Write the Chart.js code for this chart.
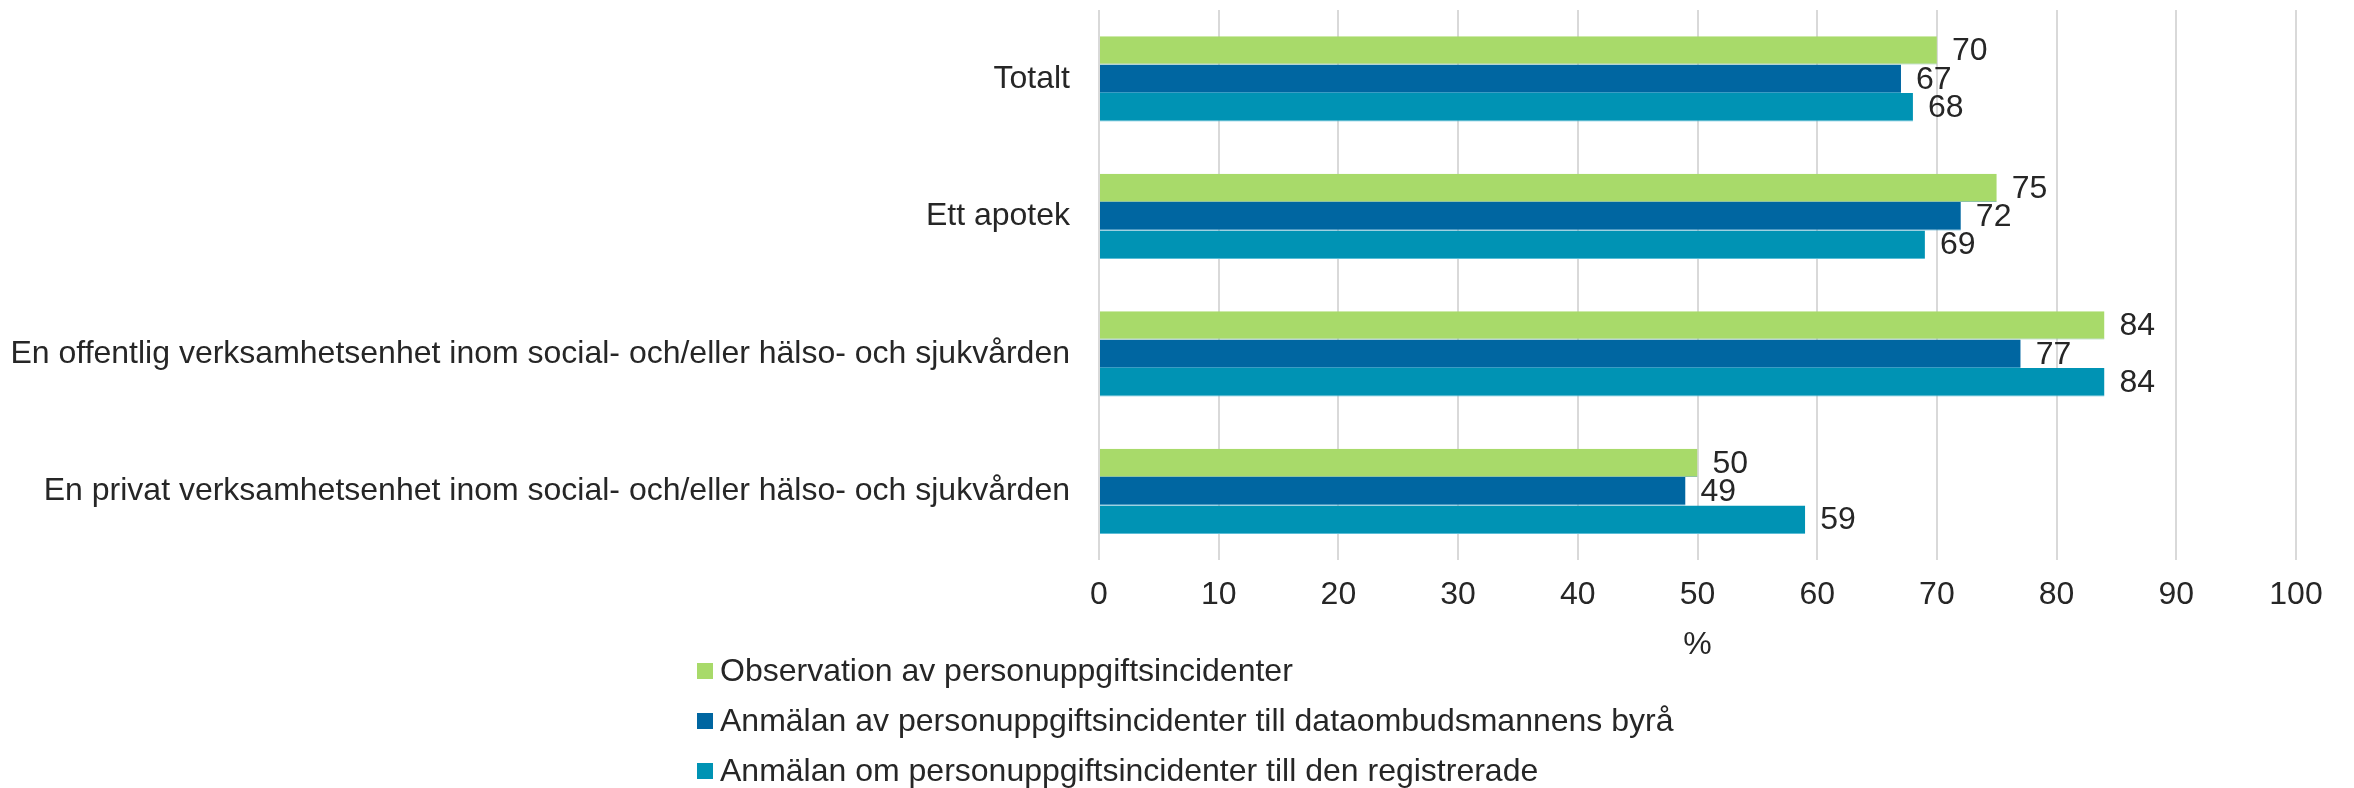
<!DOCTYPE html>
<html lang="sv">
<head>
<meta charset="utf-8">
<title>Personuppgiftsincidenter</title>
<script src="https://cdn.jsdelivr.net/npm/chart.js@4/dist/chart.umd.min.js"></script>
<style>
  html, body { margin: 0; padding: 0; background: #ffffff; }
  #wrap { width: 2354px; height: 788px; position: relative; }
</style>
</head>
<body>
<div id="wrap"><canvas id="chart" width="2354" height="788"></canvas></div>
<script>
// Kategorier (uppifrån och ned)
const categories = [
  'Totalt',
  'Ett apotek',
  'En offentlig verksamhetsenhet inom social- och/eller hälso- och sjukvården',
  'En privat verksamhetsenhet inom social- och/eller hälso- och sjukvården'
];

// Serier, andel i procent
const seriesNames = [
  'Observation av personuppgiftsincidenter',
  'Anmälan av personuppgiftsincidenter till dataombudsmannens byrå',
  'Anmälan om personuppgiftsincidenter till den registrerade'
];
const observation = [70, 75, 84, 50];
const anmalanByra = [67, 72, 77, 49];
const anmalanRegistrerade = [68, 69, 84, 59];

// Axel
const axisMin = 0;
const axisMax = 100;
const axisStep = 10;
const axisTitle = '%';

const seriesColors = ['#A8DA6A', '#0066A1', '#0093B4'];
const edgeColors = ['#8fc3a0', '#3b9cc4', '#5cbdd6'];
const textColor = '#262626';
const fontFamily = '"Liberation Sans", Arial, Helvetica, sans-serif';
const fontSize = 32;

// Värdeetiketter till höger om varje stapel
const valueLabels = {
  id: 'valueLabels',
  afterDatasetsDraw(chart) {
    const ctx = chart.ctx;
    ctx.save();
    ctx.font = fontSize + 'px ' + fontFamily;
    ctx.fillStyle = textColor;
    ctx.textAlign = 'left';
    ctx.textBaseline = 'middle';
    chart.data.datasets.forEach((ds, di) => {
      const meta = chart.getDatasetMeta(di);
      meta.data.forEach((bar, i) => {
        ctx.fillText(String(ds.data[i]), bar.x + 15, bar.y + 1);
      });
    });
    ctx.restore();
  }
};

// Vertikal förklaring under diagrammet
const stackedLegend = {
  id: 'stackedLegend',
  afterDraw(chart) {
    const ctx = chart.ctx;
    const x0 = 697;
    const rowTop = 671;
    const rowGap = 50;
    const box = 16;
    ctx.save();
    ctx.font = fontSize + 'px ' + fontFamily;
    ctx.textAlign = 'left';
    ctx.textBaseline = 'middle';
    chart.data.datasets.forEach((ds, i) => {
      const cy = rowTop + i * rowGap;
      ctx.fillStyle = ds.backgroundColor;
      ctx.fillRect(x0, cy - box / 2, box, box);
      ctx.fillStyle = textColor;
      ctx.fillText(ds.label, x0 + 23, cy + 1);
    });
    ctx.restore();
  }
};

const datasets = [observation, anmalanByra, anmalanRegistrerade].map((values, i) => ({
  label: seriesNames[i],
  data: values,
  backgroundColor: seriesColors[i],
  borderColor: edgeColors[i],
  borderWidth: { top: 0, right: 0, bottom: 1, left: 0 },
  borderSkipped: false,
  categoryPercentage: 0.62,
  barPercentage: 1.0
}));

new Chart(document.getElementById('chart'), {
  type: 'bar',
  data: { labels: categories, datasets: datasets },
  plugins: [valueLabels, stackedLegend],
  options: {
    indexAxis: 'y',
    responsive: false,
    animation: false,
    devicePixelRatio: 1,
    layout: { padding: { top: 10, right: 58, bottom: 124, left: 0 } },
    plugins: {
      legend: { display: false },
      tooltip: { enabled: false }
    },
    scales: {
      x: {
        min: axisMin,
        max: axisMax,
        grid: { color: '#d9d9d9', lineWidth: 2, drawTicks: false },
        border: { display: false },
        ticks: {
          stepSize: axisStep,
          padding: 16,
          color: textColor,
          font: { family: fontFamily, size: fontSize }
        },
        title: {
          display: true,
          text: axisTitle,
          color: textColor,
          font: { family: fontFamily, size: fontSize },
          padding: { top: 4, bottom: 0 }
        },
        afterFit(scale) { scale.height = 104; }
      },
      y: {
        // gap between label and axis comes from an invisible tick mark
        grid: { display: false, drawTicks: true, tickLength: 29 },
        border: { display: false },
        ticks: {
          padding: 0,
          color: textColor,
          font: { family: fontFamily, size: fontSize, lineHeight: 0.5 }
        },
        afterFit(scale) { scale.width = 1099; }
      }
    }
  }
});
</script>
</body>
</html>
